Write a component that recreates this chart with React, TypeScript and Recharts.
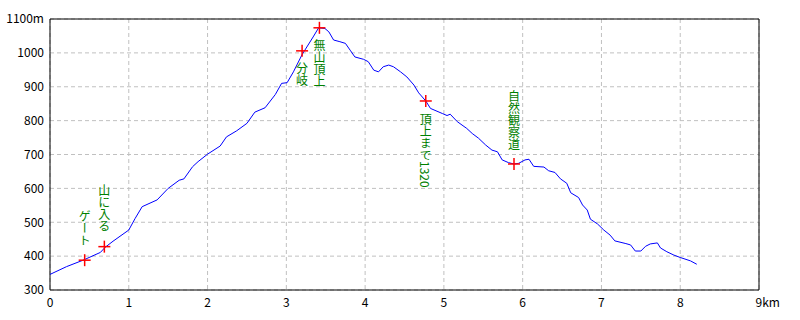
import {
  ComposedChart,
  Line,
  XAxis,
  YAxis,
  CartesianGrid,
  ReferenceArea,
  ReferenceDot,
} from 'recharts';

// elevation profile, distance in km / altitude in m
const distKm = [
  0.0, 0.21, 0.42, 0.64, 0.7, 0.8, 1.0, 1.08, 1.17, 1.36, 1.5, 1.64, 1.7, 1.81, 1.88, 2.0,
  2.16, 2.24, 2.37, 2.5, 2.6, 2.73, 2.86, 2.94, 3.01, 3.09, 3.2, 3.34, 3.41, 3.49, 3.54,
  3.6, 3.68, 3.75, 3.81, 3.87, 3.98, 4.04, 4.11, 4.17, 4.23, 4.3, 4.36, 4.45, 4.53, 4.62,
  4.68, 4.77, 4.83, 4.98, 5.04, 5.08, 5.17, 5.29, 5.36, 5.44, 5.53, 5.61, 5.68, 5.74, 5.82,
  5.89, 5.95, 6.03, 6.08, 6.14, 6.27, 6.33, 6.41, 6.48, 6.56, 6.61, 6.71, 6.76, 6.82, 6.86,
  6.95, 7.03, 7.11, 7.17, 7.31, 7.37, 7.43, 7.5, 7.56, 7.62, 7.71, 7.75, 7.83, 7.92, 8.0,
  8.13, 8.21,
];
const elevM = [
  346, 369, 388, 411, 426, 444, 477, 511, 546, 566, 600, 624, 628, 664, 679, 701,
  725, 752, 770, 792, 825, 838, 877, 910, 912, 944, 995, 1047, 1074, 1072, 1062,
  1038, 1033, 1028, 1008, 988, 981, 974, 949, 944, 959, 964, 959, 944, 929, 905,
  882, 858, 836, 821, 815, 819, 797, 777, 762, 748, 728, 713, 708, 684, 676,
  672, 674, 684, 686, 665, 663, 652, 647, 628, 615, 587, 573, 551, 536, 509,
  495, 477, 462, 445, 437, 433, 415, 415, 429, 436, 439, 424, 413, 403, 396,
  386, 376,
];

// waypoints
const markKm = [0.44, 0.69, 3.2, 3.42, 4.77, 5.89];
const markElev = [388, 428, 1006, 1074, 858, 672];
const markText = ['ゲート', '山に入る', '分岐', '無山頂上', '頂上まで1320', '自然観察道'];
const markAbove = [true, true, false, false, false, true];

const xTicks = [0, 1, 2, 3, 4, 5, 6, 7, 8, 9];
const yTicks = [300, 400, 500, 600, 700, 800, 900, 1000, 1100];

const data = distKm.map((km, i) => ({ km, elev: elevM[i] }));

function Marker({ cx, cy, text, above }: { cx?: number; cy?: number; text: string; above: boolean }) {
  if (cx == null || cy == null) return null;
  return (
    <g>
      <line x1={cx - 6} x2={cx + 6} y1={cy} y2={cy} stroke="#ff0000" strokeWidth={1.5} />
      <line x1={cx} x2={cx} y1={cy - 6} y2={cy + 6} stroke="#ff0000" strokeWidth={1.5} />
      <text
        x={cx}
        y={above ? cy - 14 : cy + 12}
        textAnchor={above ? 'end' : 'start'}
        fill="#008000"
        fontSize={12}
        style={{ writingMode: 'vertical-rl' }}
      >
        {text}
      </text>
    </g>
  );
}

// "9km" keeps the digit on the tick and lets the unit trail to the right
function XTick({ x, y, payload }: any) {
  const v = payload.value;
  return (
    <text x={v === 9 ? x - 3.5 : x} y={y} dy="0.71em" textAnchor={v === 9 ? 'start' : 'middle'} fill="#000" fontSize={12}>
      {v === 9 ? '9km' : String(v)}
    </text>
  );
}

export default function App() {
  return (
    <div style={{ position: 'absolute', left: 0, top: 0, fontFamily: '"Noto Sans CJK JP", sans-serif' }}>
      <ComposedChart
        width={800}
        height={320}
        data={data}
        margin={{ top: 19, right: 41, left: 0, bottom: 0 }}
      >
        <CartesianGrid stroke="#c0c0c0" strokeDasharray="4 3" />
        <XAxis
          dataKey="km"
          type="number"
          domain={[0, 9]}
          ticks={xTicks}
          height={30}
          tickLine={false}
          axisLine={false}
          tick={<XTick />}
          interval={0}
        />
        <YAxis
          type="number"
          domain={[300, 1100]}
          ticks={yTicks}
          width={50}
          tickLine={false}
          axisLine={false}
          tickMargin={0}
          tick={{ fill: '#000', fontSize: 12 }}
          tickFormatter={(v: number) => (v === 1100 ? '1100m' : String(v))}
          interval={0}
        />
        <ReferenceArea x1={0} x2={9} y1={300} y2={1100} fill="none" fillOpacity={0} stroke="#000" strokeWidth={1} />
        <Line
          type="linear"
          dataKey="elev"
          stroke="#0000ff"
          strokeWidth={1}
          dot={false}
          activeDot={false}
          isAnimationActive={false}
        />
        {markKm.map((km, i) => (
          <ReferenceDot
            key={i}
            x={km}
            y={markElev[i]}
            r={6}
            shape={(p: any) => <Marker cx={p.cx} cy={p.cy} text={markText[i]} above={markAbove[i]} />}
          />
        ))}
      </ComposedChart>
    </div>
  );
}
